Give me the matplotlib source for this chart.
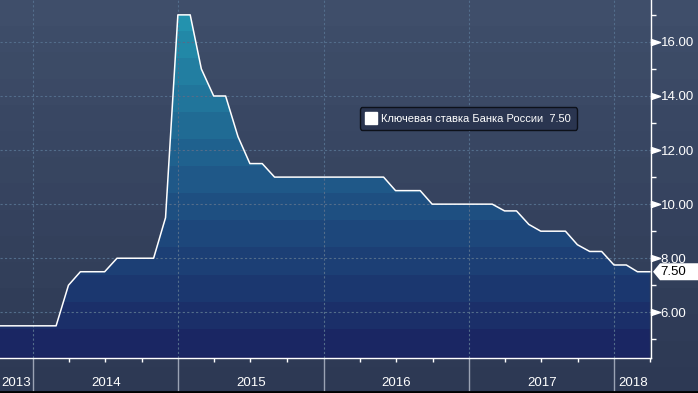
import matplotlib
matplotlib.use("Agg")
import matplotlib.pyplot as plt
import matplotlib.dates as mdates
import matplotlib.transforms as mtransforms
from matplotlib.colors import LinearSegmentedColormap, Normalize
from matplotlib.lines import Line2D
from matplotlib.patches import Polygon
import numpy as np
import pandas as pd

plt.rcParams['font.family'] = ['Liberation Sans', 'DejaVu Sans']

# key rate of the Bank of Russia, month-end values from Sep 2013 to Mar 2018
START_MONTH = "2013-09-30"
key_rate = [5.5, 5.5, 5.5, 5.5,
            5.5, 5.5, 7.0, 7.5, 7.5, 7.5, 8.0, 8.0, 8.0, 8.0, 9.5, 17.0,
            17.0, 15.0, 14.0, 14.0, 12.5, 11.5, 11.5, 11.0, 11.0, 11.0, 11.0, 11.0,
            11.0, 11.0, 11.0, 11.0, 11.0, 10.5, 10.5, 10.5, 10.0, 10.0, 10.0, 10.0,
            10.0, 10.0, 9.75, 9.75, 9.25, 9.0, 9.0, 9.0, 8.5, 8.25, 8.25, 7.75,
            7.75, 7.5, 7.5]
years = [2013, 2014, 2015, 2016, 2017, 2018]
series_name = "Ключевая ставка Банка России"
y_major = [6, 8, 10, 12, 14, 16]
y_minor = [5, 7, 9, 11, 13, 15, 17]

W, H = 698, 393
X_LEFT, X_RIGHT = pd.Timestamp("2013-10-10"), pd.Timestamp("2018-04-03")
Y_LO, Y_HI = 4.31, 17.55
FS = 9.5

dates = pd.date_range(START_MONTH, periods=len(key_rate), freq="ME")
x = mdates.date2num(dates.to_pydatetime())
xl = mdates.date2num([X_LEFT.to_pydatetime(), X_RIGHT.to_pydatetime()])

fig = plt.figure(figsize=(W / 100, H / 100), dpi=100)

# banded background over the whole figure
bg = fig.add_axes([0, 0, 1, 1], zorder=0)
bg.axis("off")
bg_cmap = LinearSegmentedColormap.from_list("bg", ["#2d3954", "#3f4e6a"])
bg.imshow(np.linspace(1, 0, 15).reshape(-1, 1), cmap=bg_cmap, aspect="auto",
          extent=[0, 1, 0, 1], interpolation="nearest")

ax = fig.add_axes([0, 35 / H, 651 / W, 358 / H], zorder=1)
ax.patch.set_alpha(0)

# gradient area under the line, in 1-point bands
fill_cmap = LinearSegmentedColormap.from_list(
    "fill", [(0, "#1a2260"), (0.5, "#1f5888"), (1, "#2498b2")])
edges = np.arange(3.4, 18.5, 1.0)
centers = (edges[:-1] + edges[1:]) / 2
im = ax.imshow(centers.reshape(-1, 1), cmap=fill_cmap, norm=Normalize(4.3, 17.5),
               origin="lower", aspect="auto", interpolation="nearest",
               extent=[xl[0], xl[1], edges[0], edges[-1]], zorder=1)
area = ax.fill_between(x, key_rate, 0, facecolor="none", edgecolor="none")
im.set_clip_path(area.get_paths()[0], ax.transData)
ax.set_xlim(xl[0], xl[1])
ax.set_ylim(Y_LO, Y_HI)

ax.plot(x, key_rate, color="white", lw=1.1, zorder=3)

# axes, ticks, grid
for s in ["top", "left"]:
    ax.spines[s].set_visible(False)
for s in ["bottom", "right"]:
    ax.spines[s].set_color("white")
    ax.spines[s].set_linewidth(1)

year_starts = mdates.date2num([pd.Timestamp(f"{y}-01-01").to_pydatetime() for y in years[1:]])
ax.set_xticks(year_starts)
ax.xaxis.set_minor_locator(mdates.MonthLocator(bymonth=[4, 7, 10]))
ax.tick_params(axis="x", which="major", length=24, width=1, color="#9aa3b4",
               labelbottom=False)
ax.tick_params(axis="x", which="minor", length=3, width=1, color="white")

ax.yaxis.tick_right()
ax.set_yticks(y_major)
ax.set_yticklabels([f"{v:.2f}" for v in y_major])
ax.set_yticks(y_minor, minor=True)
ax.tick_params(axis="y", which="major", length=0, pad=7, labelcolor="white",
               labelsize=FS)
ax.tick_params(axis="y", which="minor", length=3.5, width=1, color="white")

ax.grid(True, which="major", color="#536d8b", lw=0.8, linestyle=(0, (2, 2)))

# white arrow heads at the major y ticks
yt = mtransforms.blended_transform_factory(ax.transAxes, ax.transData)
ax.plot([1.0] * len(y_major), y_major, ls="none", color="white", ms=13,
        marker=[(0, -1), (3, 0), (0, 1), (0, -1)], transform=yt, clip_on=False,
        zorder=4)

# year labels centred in the visible part of each year
bounds = np.concatenate([[xl[0]], year_starts, [xl[1]]])
for i, y in enumerate(years):
    ax.text((bounds[i] + bounds[i + 1]) / 2, -25 / 358, str(y), color="white",
            fontsize=FS, ha="center", va="center", transform=ax.get_xaxis_transform())

# legend
handle = Line2D([], [], marker="s", color="white", ls="none", ms=8)
leg = ax.legend([handle], [f"{series_name}  {key_rate[-1]:.2f}"], loc="center",
                bbox_to_anchor=(468.5 / W, 1 - 118.5 / H), bbox_transform=fig.transFigure,
                frameon=True, facecolor="#2a3550", edgecolor="#0d111a", framealpha=1,
                fancybox=True, fontsize=8, labelcolor="white", handletextpad=0.4,
                borderpad=0.55, handlelength=1.0)
leg.get_frame().set_linewidth(1)

# last value tag on the right axis
x0 = ax.transAxes.transform((1, 0))[0]
yv = ax.transData.transform((0, key_rate[-1]))[1]
pts = np.array([(x0 + 2, yv), (x0 + 9, yv + 8.5), (W, yv + 8.5),
                (W, yv - 8.5), (x0 + 9, yv - 8.5)])
pts = fig.transFigure.inverted().transform(pts)
fig.add_artist(Polygon(pts, closed=True, facecolor="white", edgecolor="none",
                       transform=fig.transFigure, zorder=5))
tc = fig.transFigure.inverted().transform((x0 + 22, yv))
fig.text(tc[0], tc[1], f"{key_rate[-1]:.2f}", color="black", fontsize=FS,
         ha="center", va="center", zorder=6)

# black line along the bottom edge
fig.add_artist(Line2D([0, 1], [1 / H, 1 / H], transform=fig.transFigure,
                      color="black", lw=2))

fig.savefig("out.png", dpi=100)
